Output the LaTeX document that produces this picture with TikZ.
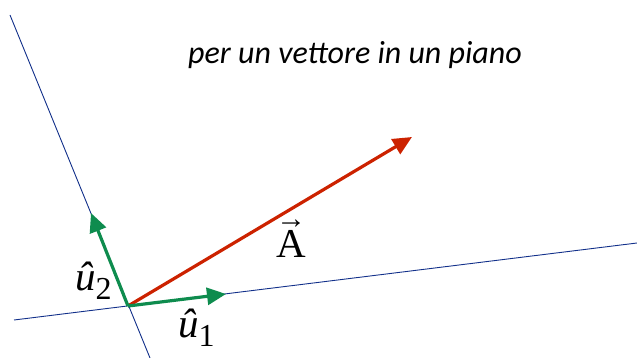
\documentclass[tikz,border=0pt]{standalone}
\usepackage{fontspec}
\setmainfont{Liberation Serif}
\newfontfamily\titlefont{Carlito}
\usetikzlibrary{arrows.meta,positioning}
\definecolor{navy}   {HTML}{12308A}
\definecolor{leaf}   {HTML}{0E8C4E}
\definecolor{brick}  {HTML}{CC2200}
\newcommand{\vecA}{\ooalign{\hfil\raisebox{29pt}{\fontsize{30}{30}\selectfont →}\hfil\cr A\cr}}
\newcommand{\uvec}[1]{{\itshape û}\raisebox{-9pt}{\fontsize{32}{32}\selectfont #1}}
\tikzset{
  % --- lines
  axis/.style  = {draw=navy, line width=0.9pt},
  vec/.style   = {line width=3.2pt, -{Triangle[length=19pt,width=17pt]}},
  unit/.style  = {vec, draw=leaf},
  main/.style  = {vec, draw=brick},
  % --- labels
  lbl/.style   = {font=\fontsize{41}{41}\selectfont, inner sep=0pt},
  title/.style = {font=\titlefont\itshape\fontsize{32}{32}\selectfont, inner sep=0pt},
}
\begin{document}
\begin{tikzpicture}[x=1pt,y=-1pt]
  \useasboundingbox (0,0) rectangle (637,358);
  \coordinate (O)  at (128,306);
  \coordinate (a1) at (10,15);
  \coordinate (a2) at (150,358);
  \coordinate (b1) at (14,320);
  \coordinate (b2) at (637,243);
  \coordinate (u1) at (226,294);
  \coordinate (u2) at (91,213);
  \coordinate (A)  at (412,137);
  \draw[axis] (a1) -- (a2);
  \draw[axis] (b1) -- (b2);
  \draw[main] (O) -- (A);
  \draw[unit] (O) -- (u1);
  \draw[unit] (O) -- (u2);
  \node[title] (ttl) at (355,55) {per un vettore in un piano};
  \node[lbl, anchor=base] (lA) at (291,258) {\vecA};
  \node[lbl, anchor=base west] (lu2) at (75,290)  {\uvec{2}};
  \node[lbl, anchor=base west] (lu1) at (178,337) {\uvec{1}};
\end{tikzpicture}
\end{document}
